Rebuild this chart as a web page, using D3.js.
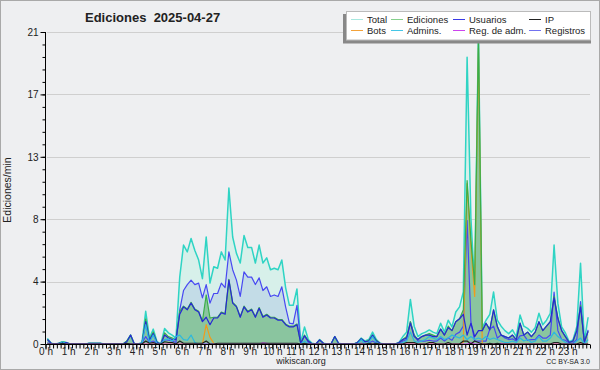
<!DOCTYPE html>
<html>
<head>
<meta charset="utf-8">
<script src="https://cdn.jsdelivr.net/npm/d3@7"></script>
<style>
  body { margin: 0; background: #fff; }
  svg text { font-family: "Liberation Sans", Arial, sans-serif; fill: #222; }
</style>
</head>
<body>
<div id="chart"></div>
<script>
// Wikiscan-style daily activity chart: edits per minute, 10-minute buckets.
const W = 600, H = 370;

const hourLabels = d3.range(24).map(h => `${h} h`);
const yTicks = [0, 4.2, 8.4, 12.6, 16.8, 21];
const yTickLabels = ['0', '4', '8', '13', '17', '21'];

// one row per hour, 6 buckets of 10 minutes
const total = [
  0.38, 0.05, 0, 0.05, 0.15, 0.1,
  0, 0, 0, 0, 0, 0.05,
  0.05, 0.05, 0.05, 0, 0, 0,
  0, 0, 0, 0.2, 0.6, 0,
  0, 0.1, 2.2, 0.4, 1.0, 0.15,
  0, 1.05, 0.75, 0.6, 0.4, 4.5,
  6.66, 6.2, 7.1, 6.3, 5.65, 4.4,
  7.2, 4.1, 5.2, 5.1, 6.2, 5.65,
  10.5, 7.2, 6.1, 5.45, 7.3, 6.5,
  6.5, 5.45, 6.66, 5.45, 5.8, 5.0,
  5.1, 5.0, 5.65, 3.8, 2.6, 2.6,
  3.7, 0.1, 1.15, 0.3, 0.05, 0,
  0.3, 0.05, 0, 0, 0.5, 0.05,
  0, 0, 0, 0, 0.1, 0.4,
  0.2, 0.3, 0.8, 0.3, 0.05, 0,
  0, 0, 0, 0.1, 0.5, 0.8,
  3.0, 1.2, 0.5, 0.7, 0.8, 0.95,
  0.8, 0.7, 1.4, 0.8, 1.6, 1.15,
  2.15, 2.5, 3.5, 19.3, 8.5, 3.9,
  21, 1.1, 1.6, 2.0, 3.5, 1.6,
  1.2, 0.9, 0.7, 0.95, 0.5, 1.95,
  1.2, 1.05, 0.8, 1.1, 2.07, 1.3,
  1.6, 2.07, 6.66, 2.75, 1.16, 0.74,
  0.15, 0.27, 1.16, 5.43, 0.2, 1.8
];
const ediciones = [
  0.3, 0.05, 0, 0.05, 0.15, 0.1,
  0, 0, 0, 0, 0, 0.05,
  0.05, 0.05, 0.05, 0, 0, 0,
  0, 0, 0, 0.2, 0.6, 0,
  0, 0.05, 1.7, 0.3, 0.8, 0.1,
  0, 0.75, 0.5, 0.4, 0.3, 2.2,
  2.55, 2.35, 2.8, 2.35, 2.2, 1.55,
  3.3, 1.75, 1.8, 1.8, 2.15, 2.05,
  4.35, 2.8, 2.55, 1.85, 2.55, 2.2,
  2.35, 1.85, 2.45, 1.85, 2.0, 1.8,
  1.8, 1.65, 1.65, 1.35, 1.2, 1.2,
  1.35, 0.05, 0.6, 0.2, 0, 0,
  0.27, 0.05, 0, 0, 0.5, 0.05,
  0, 0, 0, 0, 0.1, 0.35,
  0.15, 0.25, 0.6, 0.25, 0.05, 0,
  0, 0, 0, 0.1, 0.3, 0.5,
  1.5, 0.6, 0.3, 0.5, 0.6, 0.7,
  0.6, 0.5, 1.0, 0.6, 1.2, 0.9,
  1.5, 1.7, 2.3, 11.0, 7.0, 4.0,
  20.8, 0.9, 1.4, 1.0, 2.3, 1.2,
  0.6, 0.5, 0.4, 0.6, 0.3, 1.4,
  0.6, 0.8, 0.5, 0.8, 1.5, 0.9,
  1.2, 1.5, 3.2, 1.8, 0.9, 0.5,
  0.1, 0.2, 0.9, 2.6, 0.15, 0.85
];
const usuarios = [
  0.3, 0.05, 0, 0.05, 0.1, 0.1,
  0, 0, 0, 0, 0, 0.05,
  0.05, 0.05, 0.05, 0, 0, 0,
  0, 0, 0, 0.15, 0.6, 0,
  0, 0.05, 1.5, 0.25, 0.7, 0.1,
  0, 0.6, 0.4, 0.3, 0.3, 2.0,
  2.5, 2.3, 2.75, 2.3, 2.15, 1.5,
  1.8, 1.3, 1.75, 1.75, 2.1, 2.0,
  4.3, 2.75, 2.5, 1.8, 2.5, 2.15,
  2.3, 1.8, 2.4, 1.8, 1.95, 1.75,
  1.75, 1.6, 1.6, 1.3, 1.15, 1.15,
  1.3, 0.05, 0.55, 0.2, 0, 0,
  0.27, 0.05, 0, 0, 0.5, 0.05,
  0, 0, 0, 0, 0.1, 0.35,
  0.15, 0.2, 0.6, 0.2, 0.05, 0,
  0, 0, 0, 0.1, 0.3, 0.4,
  1.4, 0.5, 0.3, 0.5, 0.6, 0.6,
  0.5, 0.5, 1.0, 0.6, 1.1, 0.9,
  1.5, 1.7, 2.0, 0.6, 1.4, 0.5,
  0.9, 0.9, 1.4, 0.95, 2.3, 1.16,
  0.6, 0.5, 0.4, 0.6, 0.3, 1.4,
  0.6, 0.8, 0.5, 0.8, 1.5, 0.9,
  1.2, 1.5, 3.1, 1.7, 0.9, 0.5,
  0.1, 0.2, 0.9, 2.5, 0.15, 0.85
];
const ip = [
  0, 0, 0, 0, 0.05, 0,
  0, 0, 0, 0, 0, 0,
  0, 0, 0, 0, 0, 0,
  0, 0, 0, 0.05, 0, 0,
  0, 0, 0.2, 0.05, 0.1, 0,
  0, 0.15, 0.1, 0.1, 0, 0.2,
  0.05, 0.05, 0.05, 0.05, 0.05, 0.05,
  0.2, 0, 0, 0.05, 0.05, 0.05,
  0.05, 0.05, 0.05, 0.05, 0.05, 0.05,
  0.05, 0.05, 0.05, 0.05, 0.05, 0.05,
  0.05, 0.05, 0.05, 0.05, 0.05, 0.05,
  0.05, 0, 0.05, 0, 0, 0,
  0, 0, 0, 0, 0, 0,
  0, 0, 0, 0, 0, 0,
  0, 0.05, 0, 0.05, 0, 0,
  0, 0, 0, 0, 0, 0.1,
  0.1, 0.1, 0, 0, 0, 0.1,
  0.1, 0, 0, 0, 0.1, 0,
  0, 0, 0.2, 0.2, 0, 0.2,
  0.1, 0, 0, 0.05, 0, 0.05,
  0, 0, 0, 0, 0, 0,
  0, 0, 0, 0, 0, 0,
  0, 0, 0.1, 0.1, 0, 0,
  0, 0, 0, 0.1, 0, 0
];
const bots = [
  0, 0, 0, 0, 0, 0,
  0, 0, 0, 0, 0, 0,
  0, 0, 0, 0, 0, 0,
  0, 0, 0, 0, 0, 0,
  0, 0, 0, 0, 0, 0,
  0, 0, 0, 0, 0, 0,
  0, 0, 0, 0, 0, 0,
  1.3, 0.45, 0.05, 0, 0, 0,
  0, 0, 0, 0, 0, 0,
  0, 0, 0, 0, 0, 0,
  0, 0, 0, 0, 0, 0,
  0, 0, 0, 0, 0, 0,
  0, 0, 0, 0, 0, 0,
  0, 0, 0, 0, 0, 0,
  0, 0, 0, 0, 0, 0,
  0, 0, 0, 0, 0, 0,
  0, 0, 0, 0, 0, 0,
  0, 0, 0, 0, 0, 0,
  0, 0, 0.1, 10.8, 6.6, 3.2,
  19.9, 0, 0, 0, 0, 0,
  0, 0, 0, 0, 0, 0,
  0, 0, 0, 0, 0, 0,
  0, 0, 0, 0, 0, 0,
  0, 0, 0, 0, 0, 0
];
const admins = [
  0, 0, 0, 0, 0.15, 0,
  0, 0, 0, 0, 0, 0,
  0, 0, 0, 0, 0, 0,
  0, 0, 0, 0, 0, 0,
  0, 0, 1.3, 0.1, 0.6, 0,
  0, 0.3, 0.35, 0.2, 0.5, 0.6,
  0.3, 0.25, 0.6, 0.1, 0, 0,
  0, 0, 0, 0, 0, 0,
  0, 0, 0, 0, 0, 0,
  0, 0, 0, 0, 0, 0,
  0, 0, 0, 0, 0, 0,
  0, 0, 0.2, 0, 0, 0,
  0, 0, 0, 0, 0, 0,
  0, 0, 0, 0, 0, 0.3,
  0, 0.1, 0.5, 0.1, 0, 0,
  0, 0, 0, 0, 0.1, 0.2,
  0.8, 0.2, 0.1, 0.2, 0.3, 0.5,
  0.4, 0.3, 0.5, 0.3, 0.4, 0.6,
  0.5, 0.4, 0.6, 0.3, 0.5, 0.3,
  0.4, 0.3, 0.5, 0.3, 0.4, 0.3,
  0.2, 0.1, 0.1, 0.2, 0.1, 0.4,
  0.2, 0.3, 0.1, 0.2, 0.5, 0.2,
  0.2, 0.4, 0.8, 0.5, 0.3, 0.1,
  0, 0, 0.2, 0.4, 0, 0.3
];
const regAdm = [
  0, 0, 0, 0, 0, 0,
  0, 0, 0, 0, 0, 0,
  0, 0, 0, 0, 0, 0,
  0, 0, 0, 0, 0, 0,
  0, 0, 0, 0, 0, 0,
  0, 0, 0, 0, 0, 0,
  0, 0, 0, 0, 0, 0,
  0, 0, 0, 0, 0, 0,
  0, 0, 0, 0, 0, 0,
  0, 0, 0, 0.08, 0.05, 0,
  0, 0, 0, 0, 0, 0,
  0, 0, 0, 0, 0, 0,
  0, 0, 0, 0, 0, 0,
  0, 0, 0, 0, 0, 0,
  0, 0, 0, 0, 0, 0,
  0, 0, 0, 0, 0, 0,
  0, 0, 0, 0, 0, 0,
  0, 0, 0, 0, 0, 0,
  0, 0, 0, 0, 0.1, 0,
  0, 0, 0, 0, 0, 0,
  0.05, 0, 0, 0, 0, 0,
  0, 0, 0, 0, 0, 0,
  0, 0, 0, 0, 0, 0,
  0, 0, 0, 0, 0, 0
];
const registros = [
  0.08, 0, 0, 0, 0, 0,
  0, 0, 0, 0, 0, 0,
  0, 0, 0, 0, 0, 0,
  0, 0, 0, 0, 0, 0,
  0, 0.05, 0.5, 0.1, 0.2, 0.05,
  0, 0.3, 0.25, 0.2, 0.1, 2.3,
  3.6, 4.0, 4.3, 4.0, 4.1, 3.1,
  4.0, 2.75, 3.4, 3.4, 4.1, 3.8,
  6.2, 5.0, 4.3, 3.2, 4.85, 4.5,
  4.5, 4.0, 4.45, 3.6, 3.85, 3.2,
  3.3, 3.2, 3.85, 2.5, 1.4, 1.35,
  2.6, 0.05, 0.55, 0.1, 0, 0,
  0.03, 0, 0, 0, 0, 0,
  0, 0, 0, 0, 0, 0.05,
  0.05, 0.05, 0.2, 0.05, 0, 0,
  0, 0, 0, 0, 0.2, 0.3,
  1.5, 0.6, 0.2, 0.2, 0.2, 0.25,
  0.2, 0.2, 0.4, 0.2, 0.4, 0.25,
  0.65, 0.8, 1.2, 8.3, 1.5, 0.2,
  0.2, 0.2, 0.2, 1.0, 1.2, 0.4,
  0.6, 0.4, 0.3, 0.35, 0.2, 0.55,
  0.6, 0.25, 0.3, 0.3, 0.6, 0.4,
  0.4, 0.6, 3.5, 0.9, 0.3, 0.25,
  0.05, 0.07, 0.3, 2.85, 0.05, 0.95
];

// [label, values, line colour, legend colour, area fill]
const series = [
  ['Total', total, '#2fd4c4', '#a8e8df', '#d7f0ea'],
  ['Ediciones', ediciones, '#3aae48', '#86d08c', '#8ac59f'],
  ['Usuarios', usuarios, '#2727d6', '#3a3ae6', null],
  ['IP', ip, '#222', '#222', null],
  ['Bots', bots, '#f39a1a', '#f3a23a', null],
  ['Admins.', admins, '#2bb8e0', '#45c6e6', null],
  ['Reg. de adm.', regAdm, '#cc3ee6', '#cc44ee', null],
  ['Registros', registros, '#4848f2', '#7272f0', '#c3dce7']
];
const byName = Object.fromEntries(series.map(s => [s[0], s]));

const svg = d3.select('#chart').append('svg')
  .attr('width', W).attr('height', H);

svg.append('rect').attr('x', 0.5).attr('y', 0.5)
  .attr('width', W - 1).attr('height', H - 1)
  .attr('fill', '#eeeff1').attr('stroke', '#a9a9a9');

const x = d3.scaleLinear().domain([0, 24]).range([45.5, 590]);
const y = d3.scaleLinear().domain([0, 21]).range([344, 32]);
const tOf = i => (i + 0.5) / 6;

// grid
svg.append('g').selectAll('line').data(yTicks.slice(1)).join('line')
  .attr('x1', 47).attr('x2', 590)
  .attr('y1', d => Math.round(y(d)) + 0.5).attr('y2', d => Math.round(y(d)) + 0.5)
  .attr('stroke', '#cfcfcf');

const plot = svg.append('g');
const area = vals => d3.area()
  .x((d, i) => x(tOf(i))).y0(y(0)).y1(d => y(d))(vals);
const line = vals => d3.line()
  .x((d, i) => x(tOf(i))).y(d => y(d))(vals);

['Total', 'Registros', 'Ediciones'].forEach(n => {
  const s = byName[n];
  plot.append('path').attr('d', area(s[1])).attr('fill', s[4]);
});

['Total', 'Registros', 'Bots', 'Ediciones', 'Usuarios', 'Admins.', 'Reg. de adm.', 'IP'].forEach(n => {
  const s = byName[n];
  plot.append('path').attr('d', line(s[1]))
    .attr('fill', 'none').attr('stroke', s[2])
    .attr('stroke-width', n === 'Total' ? 1.5 : 1.2)
    .attr('stroke-linejoin', 'round');
});

// axes
const yMinor = d3.range(0, 21.001, 0.84);
svg.append('g').attr('transform', 'translate(45.5,0)')
  .call(d3.axisLeft(y).tickValues(yMinor).tickSize(3).tickFormat(''))
  .call(g => g.select('.domain').remove());
svg.append('g').attr('transform', 'translate(45.5,0)')
  .call(d3.axisLeft(y).tickValues(yTicks).tickSize(5).tickPadding(2)
    .tickFormat((d, i) => yTickLabels[i]))
  .call(g => g.selectAll('text').attr('font-size', 10).attr('font-family', null))
  .call(g => g.select('.domain').attr('d', `M0,${y(21)}V${y(0)}`));

svg.append('g').attr('transform', 'translate(0,344.5)')
  .call(d3.axisBottom(x).tickValues(d3.range(0, 24.001, 1 / 6)).tickSize(4).tickFormat(''))
  .call(g => g.select('.domain').remove());
svg.append('g').attr('transform', 'translate(0,344.5)')
  .call(d3.axisBottom(x).tickValues(d3.range(24)).tickSize(5).tickPadding(-2)
    .tickFormat((d, i) => hourLabels[i]))
  .call(g => g.selectAll('text').attr('font-size', 10).attr('font-family', null))
  .call(g => g.select('.domain').attr('d', `M${x(0)},0H${x(24)}`));

// titles
svg.append('text').attr('x', 85).attr('y', 22)
  .attr('font-family', '"DejaVu Sans", sans-serif').attr('font-weight', 'bold')
  .attr('font-size', 13).style('white-space', 'pre')
  .text('Ediciones  2025-04-27');
svg.append('text')
  .attr('transform', 'translate(11,190) rotate(-90)')
  .attr('text-anchor', 'middle').attr('font-family', '"DejaVu Sans", sans-serif')
  .attr('font-size', 10.5).text('Ediciones/min');
svg.append('text').attr('x', 301).attr('y', 364)
  .attr('text-anchor', 'middle').attr('font-size', 9).text('wikiscan.org');
svg.append('text').attr('x', 590).attr('y', 364)
  .attr('text-anchor', 'end').attr('font-size', 7).text('CC BY-SA 3.0');

// legend
const lg = svg.append('g');
lg.append('rect').attr('x', 343).attr('y', 14).attr('width', 248).attr('height', 29.5)
  .attr('fill', '#888');
lg.append('rect').attr('x', 346.5).attr('y', 11.5).attr('width', 244).attr('height', 28.5)
  .attr('fill', '#fff').attr('stroke', '#bbb');
const colX = [351, 391, 453, 529];
const rowY = [19.5, 30.5];
const items = lg.selectAll('g.item').data(series).join('g')
  .attr('class', 'item')
  .attr('transform', (s, i) => `translate(${colX[i % 4]},${rowY[Math.floor(i / 4)]})`);
items.append('line').attr('x1', 0).attr('x2', 12)
  .attr('stroke', s => s[3]).attr('stroke-width', 1);
items.append('text').attr('x', 16).attr('y', 3.2)
  .attr('font-size', 9.5).text(s => s[0]);
</script>
</body>
</html>
